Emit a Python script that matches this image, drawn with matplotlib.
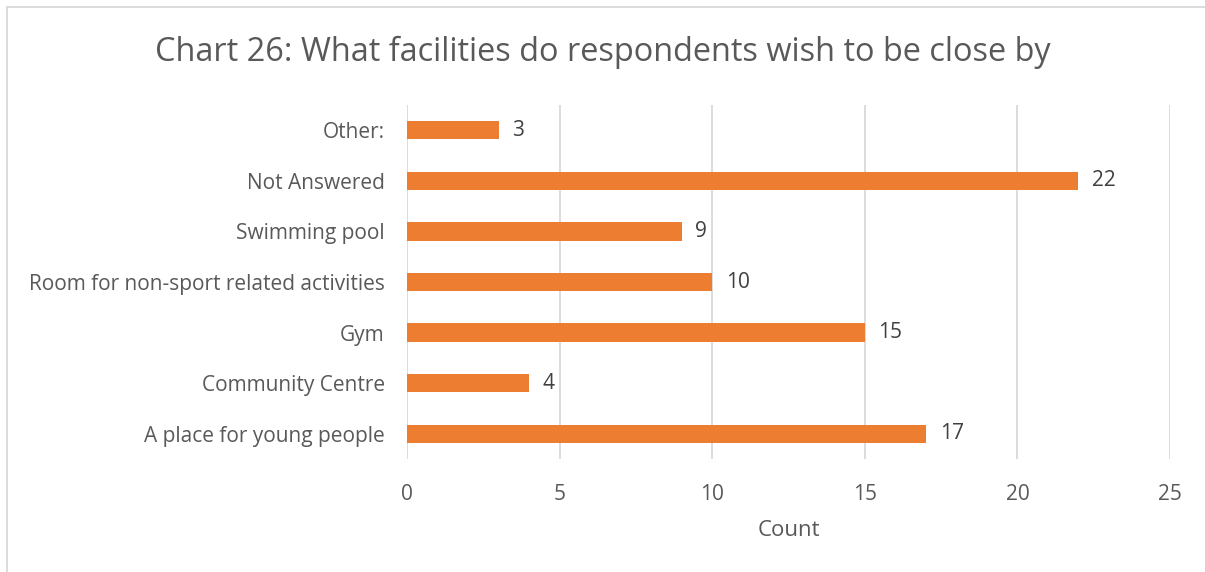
import matplotlib.pyplot as plt
from matplotlib.patches import Rectangle

# Data
categories = ['A place for young people', 'Community Centre', 'Gym',
              'Room for non-sport related activities', 'Swimming pool',
              'Not Answered', 'Other:']
counts = [17, 4, 15, 10, 9, 22, 3]
xticks = [0, 5, 10, 15, 20, 25]

plt.rcParams['font.family'] = ['Open Sans', 'DejaVu Sans']
txt = '#595959'
orange = '#ED7D31'

fig = plt.figure(figsize=(12.05, 5.72), dpi=100)
ax = fig.add_axes([407 / 1205, 1 - 459 / 572, (1170 - 407) / 1205, (459 - 105) / 572])

ypos = range(len(categories))
ax.barh(ypos, counts, height=0.36, color=orange, zorder=3)
for y, v in zip(ypos, counts):
    ax.text(v + 0.45, y, str(v), va='center', ha='left', fontsize=15, color='#404040')

ax.set_xlim(0, 25)
ax.set_ylim(-0.5, len(categories) - 0.5)
ax.set_xticks(xticks)
ax.set_yticks(list(ypos))
ax.set_yticklabels(categories)
ax.tick_params(axis='both', length=0, labelsize=15, colors=txt)
ax.tick_params(axis='x', pad=18)
ax.tick_params(axis='y', pad=16)
ax.grid(axis='x', color='#D9D9D9', linewidth=1.3, zorder=0)
for s in ax.spines.values():
    s.set_visible(False)

ax.set_xlabel('Count', fontsize=16, color=txt, labelpad=11)
fig.text(0.5, 1 - 52 / 572, 'Chart 26: What facilities do respondents wish to be close by',
         ha='center', va='center', fontsize=23.4, color=txt)

# outer chart border
fig.patches.append(Rectangle((7 / 1205, -0.1), 1.2, 1 - 7 / 572 + 0.1,
                             transform=fig.transFigure, fill=False,
                             edgecolor='#D9D9D9', linewidth=1.3))

fig.savefig('out.png', dpi=100)
